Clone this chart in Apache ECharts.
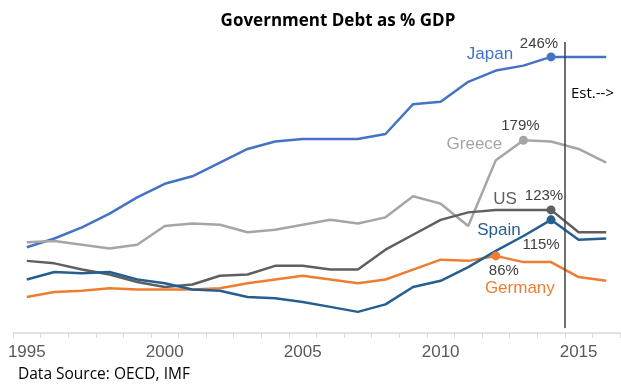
<!DOCTYPE html>
<html>
<head>
<meta charset="utf-8">
<script src="https://cdn.jsdelivr.net/npm/echarts@6/dist/echarts.min.js"></script>
<style>
  html, body { margin: 0; padding: 0; background: #fff; }
  #chart { width: 621px; height: 385px; }
</style>
</head>
<body>
<div id="chart"></div>
<script>
// years on the x axis (1995 - 2016, last two are estimates)
const years = ['1995', '1996', '1997', '1998', '1999', '2000', '2001', '2002', '2003', '2004', '2005',
  '2006', '2007', '2008', '2009', '2010', '2011', '2012', '2013', '2014', '2015', '2016'];

// debt as % of GDP
const japan = [93, 100, 109, 120, 133, 144, 150, 161, 172, 178, 180, 180, 180, 184, 208, 210, 226, 235, 239, 246, 246, 246];
const greece = [97, 98, 95, 92, 95, 110, 112, 111, 105, 107, 111, 115, 112, 117, 134, 128, 110, 163, 179, 178, 172, 161];
const us = [82, 80, 75, 71, 65, 61, 63, 70, 71, 78, 78, 75, 75, 91, 103, 115, 121, 123, 123, 123, 105, 105];
const spain = [67, 73, 72, 73, 67, 64, 59, 58, 53, 52, 49, 45, 41, 47, 61, 66, 77, 90, 102, 115, 99, 100];
const germany = [53, 57, 58, 60, 59, 59, 59, 60, 64, 67, 70, 67, 64, 67, 75, 83, 82, 86, 81, 81, 69, 66];

// which year gets the dot + % label for each country
const peakIndex = { Japan: 19, Greece: 18, US: 19, Spain: 19, Germany: 17 };

// boundary between actual and estimated values
const estStart = 2014.5;

const yMin = 24;
const yMax = 258;

const chart = echarts.init(document.getElementById('chart'));

function pointData(name, values) {
  return values.map(function (v, i) {
    if (i === peakIndex[name]) {
      return { value: v, symbol: 'circle', symbolSize: 9 };
    }
    return { value: v, symbol: 'none' };
  });
}

function tag(values, idx, text, dx, dy, color, size) {
  return {
    coord: [years[idx], values[idx]],
    symbol: 'circle',
    symbolSize: 0,
    label: {
      show: true,
      position: 'inside',
      formatter: text,
      offset: [dx, dy],
      color: color,
      fontSize: size,
      fontFamily: 'Liberation Sans, Arial, sans-serif'
    }
  };
}

function lineSeries(name, values, color, tags) {
  return {
    name: name,
    type: 'line',
    data: pointData(name, values),
    color: color,
    showAllSymbol: true,
    symbol: 'circle',
    lineStyle: { width: 2.5, color: color },
    itemStyle: { color: color },
    emphasis: { disabled: true },
    silent: true,
    markPoint: {
      silent: true,
      animation: false,
      data: tags
    }
  };
}

const pctColor = '#404040';

const option = {
  animation: false,
  title: {
    text: 'Government Debt as % GDP',
    left: 333,
    top: 8,
    textAlign: 'center',
    textStyle: {
      fontFamily: 'Open Sans, sans-serif',
      fontWeight: 'bold',
      fontSize: 17,
      color: '#000'
    }
  },
  grid: {
    left: 13,
    right: 1,
    top: 42,
    bottom: 52,
    containLabel: false,
    outerBoundsMode: 'none'
  },
  xAxis: [
    {
      type: 'category',
      data: years,
      boundaryGap: true,
      axisLine: { lineStyle: { color: '#D9D9D9', width: 1.5 } },
      axisTick: { show: true, interval: 0, length: 5, lineStyle: { color: '#D9D9D9', width: 1 } },
      axisLabel: {
        interval: 4,
        color: '#595959',
        fontSize: 17,
        margin: 11,
        fontFamily: 'Liberation Sans, Arial, sans-serif'
      },
      splitLine: { show: false }
    },
    {
      type: 'value',
      min: 1994.5,
      max: 2016.5,
      show: false
    }
  ],
  yAxis: {
    type: 'value',
    min: yMin,
    max: yMax,
    show: false,
    splitLine: { show: false }
  },
  series: [
    lineSeries('Japan', japan, '#4472C4', [
      tag(japan, peakIndex.Japan, '246%', -12, -13, pctColor, 15),
      tag(japan, peakIndex.Japan, 'Japan', -61, -3, '#4472C4', 17)
    ]),
    lineSeries('Greece', greece, '#A5A5A5', [
      tag(greece, peakIndex.Greece, '179%', -3, -14, pctColor, 15),
      tag(greece, peakIndex.Greece, 'Greece', -49, 4, '#A5A5A5', 17)
    ]),
    lineSeries('US', us, '#5F5F5F', [
      tag(us, peakIndex.US, '123%', -7, -14, pctColor, 15),
      tag(us, peakIndex.US, 'US', -46, -11, '#5F5F5F', 17)
    ]),
    lineSeries('Germany', germany, '#ED7D31', [
      tag(germany, peakIndex.Germany, '86%', 8, 15, pctColor, 15),
      tag(germany, peakIndex.Germany, 'Germany', 24, 32, '#ED7D31', 17)
    ]),
    lineSeries('Spain', spain, '#255E91', [
      tag(spain, peakIndex.Spain, '115%', -10, 25, pctColor, 15),
      tag(spain, peakIndex.Spain, 'Spain', -52, 10, '#255E91', 17)
    ]),
    {
      name: 'est',
      type: 'line',
      xAxisIndex: 1,
      data: [],
      silent: true,
      markLine: {
        silent: true,
        symbol: 'none',
        animation: false,
        lineStyle: { color: '#404040', width: 1.5, type: 'solid' },
        label: { show: false },
        data: [[{ coord: [estStart, yMax] }, { coord: [estStart, 28] }]]
      }
    }
  ],
  graphic: [
    {
      type: 'text',
      left: 571,
      top: 86,
      style: {
        text: 'Est.-->',
        fill: '#000',
        font: '15px "Open Sans", sans-serif'
      }
    },
    {
      type: 'text',
      left: 18,
      top: 367,
      style: {
        text: 'Data Source: OECD, IMF',
        fill: '#000',
        font: '15.5px "Open Sans", sans-serif'
      }
    }
  ]
};

chart.setOption(option);
</script>
</body>
</html>
